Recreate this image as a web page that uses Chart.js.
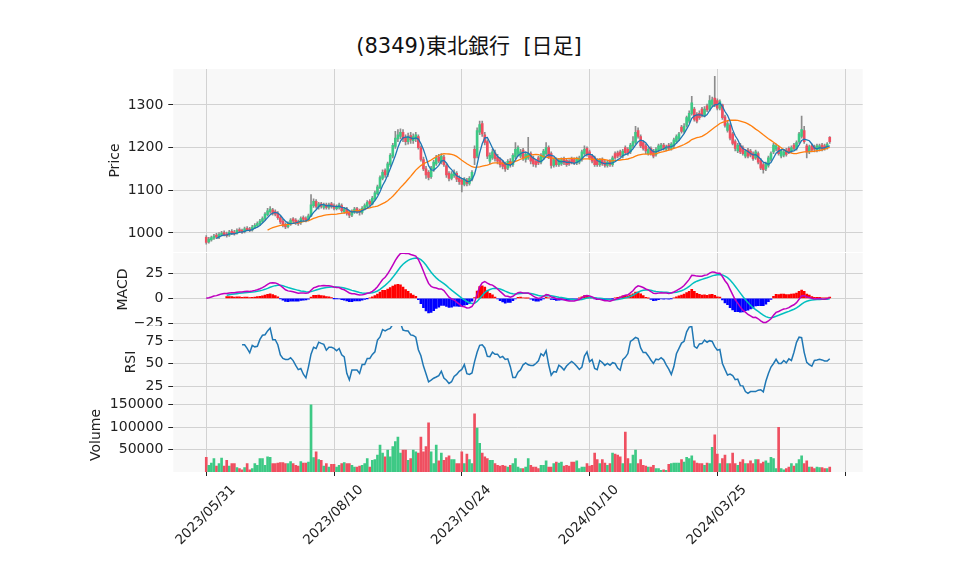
<!DOCTYPE html>
<html>
<head>
<meta charset="utf-8">
<script src="https://cdn.jsdelivr.net/npm/chart.js@4.4.0/dist/chart.umd.min.js"></script>
<style>
  body { margin: 0; background: #fff; }
  #wrap { position: relative; width: 958px; height: 575px; overflow: hidden; }
  #wrap canvas { position: absolute; left: 0; }
  #title {
    position: absolute; top: 29px; left: 469px; transform: translateX(-50%);
    font: 21px "DejaVu Sans", "Noto Sans CJK JP", sans-serif; color: #111; white-space: pre;
  }
</style>
</head>
<body>
<div id="wrap">
  <div id="title">(8349)東北銀行  [日足]</div>
  <canvas id="priceChart" width="958" height="183" style="top:69px"></canvas>
  <canvas id="macdChart" width="958" height="73" style="top:253px"></canvas>
  <canvas id="rsiChart" width="958" height="72" style="top:326px"></canvas>
  <canvas id="volumeChart" width="958" height="177" style="top:398px"></canvas>
</div>
<script>
// ラベル（50営業日ごと）
const tickLabels = ['2023/05/31', '2023/08/10', '2023/10/24', '2024/01/10', '2024/03/25', ''];

// 日足 OHLC
const opens = [
  990, 979, 984, 988, 995, 990, 996, 1001, 998, 995,
  1004, 1002, 999, 1008, 1006, 1003, 1011, 1010, 1007, 1013,
  1017, 1021, 1027, 1034, 1043, 1050, 1054, 1050, 1046, 1036,
  1028, 1020, 1015, 1021, 1033, 1030, 1026, 1024, 1036, 1034,
  1031, 1040, 1064, 1074, 1061, 1068, 1060, 1066, 1060, 1068,
  1064, 1057, 1060, 1064, 1050, 1056, 1048, 1042, 1049, 1057,
  1052, 1048, 1057, 1062, 1074, 1068, 1080, 1092, 1106, 1128,
  1146, 1136, 1160, 1180, 1203, 1220, 1226, 1236, 1224, 1214,
  1228, 1216, 1220, 1226, 1200, 1172, 1150, 1142, 1132, 1150,
  1162, 1178, 1166, 1178, 1158, 1140, 1128, 1134, 1140, 1128,
  1124, 1114, 1124, 1116, 1126, 1196, 1180, 1236, 1256, 1230,
  1214, 1168, 1176, 1188, 1178, 1172, 1166, 1162, 1152, 1168,
  1160, 1178, 1184, 1180, 1194, 1172, 1176, 1186, 1174, 1168,
  1176, 1166, 1176, 1186, 1200, 1186, 1158, 1172, 1160, 1162,
  1174, 1170, 1168, 1174, 1172, 1164, 1166, 1172, 1186, 1198,
  1190, 1180, 1176, 1170, 1160, 1172, 1166, 1158, 1168, 1160,
  1186, 1188, 1190, 1180, 1200, 1196, 1190, 1204, 1212, 1240,
  1226, 1212, 1204, 1186, 1198, 1192, 1184, 1194, 1198, 1206,
  1196, 1206, 1198, 1204, 1214, 1220, 1248, 1238, 1252, 1262,
  1280, 1290, 1278, 1280, 1290, 1276, 1298, 1290, 1300, 1316,
  1310, 1292, 1300, 1272, 1240, 1252, 1232, 1214, 1192, 1206,
  1200, 1180, 1194, 1192, 1186, 1176, 1186, 1170, 1160, 1150,
  1158, 1172, 1190, 1196, 1200, 1180, 1182, 1194, 1198, 1192,
  1206, 1198, 1214, 1226, 1240, 1204, 1190, 1204, 1202, 1194,
  1196, 1206, 1204, 1200, 1224
];
const highs = [
  994, 990, 993, 997, 999, 1001, 1004, 1005, 1002, 1006,
  1008, 1006, 1010, 1012, 1009, 1014, 1015, 1013, 1018, 1022,
  1026, 1032, 1038, 1048, 1058, 1062, 1058, 1054, 1050, 1040,
  1032, 1024, 1026, 1034, 1036, 1034, 1030, 1038, 1040, 1038,
  1044, 1090, 1080, 1078, 1072, 1072, 1070, 1070, 1070, 1072,
  1068, 1066, 1070, 1068, 1060, 1060, 1052, 1054, 1060, 1060,
  1056, 1062, 1068, 1076, 1078, 1086, 1098, 1112, 1134, 1148,
  1150, 1166, 1186, 1210, 1238, 1242, 1244, 1242, 1230, 1234,
  1236, 1232, 1236, 1230, 1204, 1178, 1156, 1146, 1156, 1170,
  1182, 1184, 1186, 1182, 1162, 1144, 1144, 1148, 1144, 1134,
  1128, 1130, 1128, 1132, 1146, 1204, 1246, 1262, 1262, 1236,
  1218, 1188, 1196, 1194, 1184, 1176, 1170, 1166, 1172, 1174,
  1186, 1212, 1204, 1196, 1198, 1190, 1224, 1190, 1180, 1172,
  1180, 1186, 1196, 1212, 1204, 1190, 1176, 1176, 1174, 1176,
  1178, 1174, 1172, 1178, 1176, 1178, 1180, 1194, 1204, 1202,
  1194, 1184, 1180, 1174, 1174, 1176, 1170, 1170, 1172, 1180,
  1190, 1192, 1194, 1196, 1204, 1200, 1210, 1226, 1250, 1246,
  1230, 1216, 1208, 1200, 1202, 1196, 1200, 1208, 1210, 1210,
  1206, 1210, 1212, 1222, 1230, 1236, 1252, 1256, 1274, 1286,
  1320, 1294, 1282, 1286, 1294, 1296, 1302, 1322, 1318, 1367,
  1314, 1312, 1302, 1276, 1262, 1256, 1236, 1218, 1210, 1210,
  1204, 1196, 1198, 1196, 1190, 1194, 1190, 1174, 1164, 1166,
  1180, 1190, 1210, 1208, 1204, 1196, 1194, 1198, 1202, 1204,
  1210, 1216, 1236, 1274, 1250, 1208, 1206, 1208, 1206, 1208,
  1208, 1210, 1208, 1212, 1226
];
const lows = [
  974, 976, 981, 985, 987, 987, 993, 993, 990, 992,
  996, 995, 997, 1001, 999, 1000, 1005, 1003, 1004, 1010,
  1014, 1018, 1024, 1030, 1040, 1046, 1042, 1040, 1032, 1022,
  1014, 1010, 1012, 1018, 1024, 1020, 1018, 1020, 1028, 1026,
  1028, 1038, 1060, 1058, 1056, 1058, 1056, 1056, 1056, 1058,
  1054, 1054, 1056, 1048, 1046, 1042, 1036, 1038, 1046, 1046,
  1042, 1044, 1054, 1060, 1064, 1066, 1078, 1090, 1104, 1124,
  1130, 1132, 1156, 1176, 1198, 1214, 1220, 1214, 1206, 1208,
  1210, 1210, 1214, 1196, 1168, 1146, 1128, 1124, 1128, 1144,
  1158, 1164, 1162, 1156, 1130, 1122, 1124, 1130, 1120, 1114,
  1096, 1110, 1110, 1112, 1122, 1160, 1176, 1230, 1226, 1206,
  1174, 1162, 1172, 1168, 1162, 1154, 1150, 1144, 1148, 1154,
  1156, 1174, 1180, 1176, 1170, 1166, 1172, 1162, 1156, 1154,
  1160, 1162, 1172, 1182, 1174, 1152, 1154, 1156, 1156, 1158,
  1160, 1156, 1158, 1162, 1160, 1160, 1162, 1168, 1182, 1180,
  1172, 1164, 1156, 1156, 1156, 1158, 1154, 1154, 1156, 1156,
  1172, 1176, 1178, 1176, 1184, 1182, 1186, 1200, 1208, 1222,
  1200, 1194, 1186, 1182, 1182, 1176, 1180, 1190, 1194, 1194,
  1192, 1194, 1194, 1200, 1210, 1216, 1234, 1234, 1248, 1258,
  1276, 1262, 1258, 1266, 1272, 1272, 1284, 1286, 1296, 1296,
  1288, 1288, 1266, 1248, 1236, 1218, 1206, 1192, 1188, 1186,
  1182, 1176, 1176, 1178, 1170, 1172, 1162, 1148, 1140, 1146,
  1154, 1168, 1186, 1192, 1182, 1176, 1178, 1180, 1186, 1188,
  1194, 1194, 1210, 1222, 1210, 1176, 1186, 1190, 1190, 1190,
  1192, 1192, 1194, 1196, 1210
];
const closes = [
  978, 986, 989, 993, 990, 997, 1000, 996, 994, 1002,
  1000, 998, 1006, 1004, 1002, 1010, 1008, 1006, 1014, 1018,
  1022, 1028, 1034, 1044, 1052, 1056, 1046, 1044, 1036, 1026,
  1018, 1014, 1022, 1030, 1028, 1024, 1022, 1034, 1032, 1030,
  1040, 1066, 1074, 1062, 1068, 1062, 1066, 1060, 1066, 1062,
  1058, 1062, 1066, 1052, 1056, 1046, 1042, 1050, 1056, 1050,
  1048, 1058, 1064, 1072, 1068, 1082, 1094, 1108, 1130, 1142,
  1136, 1162, 1182, 1205, 1222, 1230, 1236, 1220, 1214, 1226,
  1218, 1226, 1230, 1200, 1172, 1150, 1136, 1130, 1152, 1166,
  1176, 1168, 1180, 1160, 1136, 1128, 1138, 1142, 1126, 1120,
  1114, 1126, 1116, 1128, 1142, 1176, 1240, 1254, 1232, 1212,
  1180, 1182, 1190, 1174, 1168, 1160, 1156, 1150, 1168, 1160,
  1182, 1196, 1200, 1190, 1176, 1184, 1186, 1168, 1162, 1160,
  1164, 1182, 1192, 1200, 1178, 1158, 1172, 1160, 1170, 1172,
  1164, 1160, 1162, 1166, 1164, 1174, 1176, 1190, 1196, 1184,
  1176, 1168, 1160, 1160, 1170, 1162, 1158, 1166, 1160, 1176,
  1176, 1180, 1182, 1192, 1188, 1186, 1206, 1214, 1236, 1226,
  1204, 1198, 1192, 1196, 1186, 1180, 1196, 1204, 1206, 1198,
  1202, 1198, 1208, 1218, 1226, 1232, 1238, 1250, 1270, 1280,
  1305, 1266, 1262, 1270, 1276, 1290, 1288, 1310, 1312, 1300,
  1292, 1308, 1270, 1252, 1256, 1222, 1210, 1198, 1206, 1190,
  1186, 1192, 1180, 1182, 1174, 1190, 1166, 1152, 1148, 1162,
  1176, 1186, 1206, 1204, 1186, 1192, 1190, 1184, 1190, 1200,
  1198, 1212, 1232, 1242, 1214, 1190, 1202, 1194, 1196, 1204,
  1204, 1196, 1198, 1208, 1214
];
const volumes = [
  32500, 15000, 20000, 30000, 13000, 19000, 31000, 13000, 26000, 13000,
  19000, 19000, 10000, 7500, 5000, 10000, 19000, 5000, 7500, 19000,
  15000, 30000, 30000, 15000, 34000, 32500, 19000, 19000, 20000, 21000,
  21000, 19000, 19000, 23000, 19000, 15000, 13000, 23000, 20000, 20000,
  22000, 150000, 32000, 45000, 28000, 26000, 13000, 19000, 11000, 17000,
  17000, 11000, 15000, 19000, 21000, 19000, 19000, 15000, 11000, 11000,
  13000, 15000, 19000, 30000, 11000, 26000, 28000, 38000, 60000, 42000,
  34000, 49000, 34000, 57000, 68000, 78000, 42000, 49000, 49000, 26000,
  30000, 49000, 45000, 42000, 78000, 45000, 57000, 110000, 45000, 19000,
  60000, 25000, 42000, 26000, 32000, 36000, 28000, 28000, 19000, 19000,
  45000, 19000, 40000, 28000, 19000, 130000, 98000, 64000, 42000, 34000,
  30000, 26000, 26000, 19000, 15000, 13000, 15000, 13000, 11000, 15000,
  19000, 30000, 11000, 7500, 7500, 11000, 30000, 15000, 11000, 11000,
  7500, 15000, 15000, 25000, 11000, 11000, 19000, 22000, 20000, 22000,
  13000, 15000, 13000, 22000, 22000, 25000, 7500, 11000, 11000, 19000,
  13000, 15000, 42000, 28000, 19000, 28000, 20000, 15000, 19000, 42000,
  40000, 38000, 34000, 19000, 89000, 30000, 19000, 38000, 49000, 19000,
  28000, 15000, 13000, 11000, 11000, 15000, 7500, 7500, 3800, 5000,
  3800, 17000, 19000, 20000, 20000, 20000, 28000, 22000, 32500, 30000,
  36000, 25000, 20000, 19000, 19000, 15000, 20000, 19000, 55000, 83000,
  40000, 19000, 30000, 38000, 19000, 19000, 42000, 19000, 15000, 22000,
  28000, 19000, 19000, 25000, 19000, 28000, 28000, 19000, 22000, 25000,
  20000, 32500, 30000, 7500, 100000, 7500, 5000, 7500, 11000, 19000,
  13000, 19000, 28000, 36000, 19000, 25000, 11000, 11000, 7500, 11000,
  10000, 10000, 7500, 7500, 11000
];

const UP = '#3dc985';
const DOWN = '#ef4f60';
const WICK = '#8c8c8c';
const GRID = '#d2d2d2';
const TEXT = '#222';
const FONT = '"DejaVu Sans", "Noto Sans CJK JP", sans-serif';
const X_MIN = -12.9;
const X_MAX = 256.9;
const PLOT_LEFT = 173.3;
const PLOT_RIGHT = 862.7;

Chart.defaults.font.family = FONT;

const idx = closes.map((_, i) => i);
const isUp = closes.map((c, i) => c >= opens[i]);
const pts = arr => idx.map(i => ({ x: i, y: arr[i] }));

// テクニカル指標（終値から）
function sma(src, n) {
    return src.map((v, i) => {
        if (i < n - 1) return null;
        let s = 0;
        for (let j = i - n + 1; j <= i; j++) s += src[j];
        return s / n;
    });
}

function ema(src, n) {
    const k = 2 / (n + 1);
    let prev = src[0];
    return src.map((v, i) => (prev = i === 0 ? v : v * k + prev * (1 - k)));
}

function rsiOf(src, n) {
    return src.map((v, i) => {
        if (i < n) return null;
        let gain = 0, loss = 0;
        for (let j = i - n + 1; j <= i; j++) {
            const d = src[j] - src[j - 1];
            if (d > 0) gain += d; else loss -= d;
        }
        return loss === 0 ? 100 : 100 - 100 / (1 + gain / loss);
    });
}

const ma5 = sma(closes, 5);
const ma25 = sma(closes, 25);
const ema12 = ema(closes, 12);
const ema26 = ema(closes, 26);
const macd = closes.map((_, i) => ema12[i] - ema26[i]);
const signalFull = ema(macd, 9);
const signal = signalFull.map((v, i) => (i < 8 ? null : v));
const hist = macd.map((v, i) => (i < 8 ? null : v - signalFull[i]));
const rsi = rsiOf(closes, 14);

const panelBg = {
    id: 'panelBg',
    beforeDraw(chart) {
        const { ctx, chartArea: a } = chart;
        ctx.save();
        ctx.fillStyle = '#f8f8f8';
        ctx.fillRect(a.left, a.top, a.right - a.left, a.bottom - a.top);
        ctx.restore();
    }
};

function panelOptions({ yMin, yMax, yTicks, yTitle, boxLeft, showX, fmt }) {
    return {
        responsive: false,
        animation: false,
        devicePixelRatio: 1,
        layout: { padding: { left: boxLeft, right: 958 - PLOT_RIGHT, top: 0, bottom: 0 } },
        plugins: { legend: { display: false }, tooltip: { enabled: false } },
        scales: {
            x: {
                type: 'linear',
                min: X_MIN,
                max: X_MAX,
                offset: false,
                afterBuildTicks: s => { s.ticks = [0, 50, 100, 150, 200, 250].map(v => ({ value: v })); },
                afterFit: s => {
                    s.height = showX ? 103 : 0;
                    s.paddingLeft = 0;
                    s.paddingRight = 0;
                },
                grid: { color: GRID, tickColor: TEXT, offset: false, drawTicks: showX, tickLength: 4 },
                border: { display: false },
                ticks: {
                    display: showX,
                    autoSkip: false,
                    maxRotation: 45,
                    minRotation: 45,
                    labelOffset: 27,
                    padding: 6,
                    color: TEXT,
                    font: { size: 13.5 },
                    callback: v => tickLabels[v / 50]
                }
            },
            y: {
                min: yMin,
                max: yMax,
                afterBuildTicks: s => { s.ticks = yTicks.map(v => ({ value: v })); },
                afterFit: s => {
                    s.width = PLOT_LEFT - boxLeft;
                    s.paddingTop = 0;
                    s.paddingBottom = 0;
                },
                grid: { color: GRID, tickColor: TEXT, tickLength: 5 },
                border: { display: false },
                ticks: { color: TEXT, padding: 5, font: { size: 14 }, callback: fmt },
                title: { display: true, text: yTitle, color: TEXT, padding: 0, font: { size: 14 } }
            }
        }
    };
}

// 株価
new Chart(document.getElementById('priceChart'), {
    type: 'bar',
    data: {
        datasets: [
            { type: 'line', data: pts(ma5), borderColor: '#1f77b4', borderWidth: 1.3, pointRadius: 0, order: 0 },
            { type: 'line', data: pts(ma25), borderColor: '#ff7f0e', borderWidth: 1.3, pointRadius: 0, order: 1 },
            {
                data: idx.map(i => ({ x: i, y: [opens[i], closes[i]] })),
                backgroundColor: isUp.map(u => (u ? UP : DOWN)),
                barThickness: 2, minBarLength: 1, grouped: false, order: 2
            },
            {
                data: idx.map(i => ({ x: i, y: [lows[i], highs[i]] })),
                backgroundColor: WICK,
                barThickness: 1, grouped: false, order: 3
            }
        ]
    },
    options: panelOptions({
        yMin: 955.5, yMax: 1384, yTicks: [1000, 1100, 1200, 1300],
        yTitle: 'Price', boxLeft: 106.6, showX: false, fmt: v => String(v)
    }),
    plugins: [panelBg]
});

// MACD
new Chart(document.getElementById('macdChart'), {
    type: 'bar',
    data: {
        datasets: [
            { type: 'line', data: pts(macd), borderColor: '#bf00bf', borderWidth: 1.5, pointRadius: 0, order: 0 },
            { type: 'line', data: pts(signal), borderColor: '#00bfbf', borderWidth: 1.5, pointRadius: 0, order: 1 },
            {
                data: pts(hist),
                backgroundColor: hist.map(v => (v !== null && v < 0 ? '#0000ff' : '#ff0000')),
                barThickness: 2, grouped: false, order: 2
            }
        ]
    },
    options: panelOptions({
        yMin: -27.7, yMax: 45.3, yTicks: [-25, 0, 25],
        yTitle: 'MACD', boxLeft: 115.1, showX: false,
        fmt: v => (v < 0 ? '\u2212' + Math.abs(v) : String(v))
    }),
    plugins: [panelBg]
});

// RSI
new Chart(document.getElementById('rsiChart'), {
    type: 'line',
    data: {
        datasets: [
            { data: pts(rsi), borderColor: '#1f77b4', borderWidth: 1.5, pointRadius: 0 }
        ]
    },
    options: panelOptions({
        yMin: 11.8, yMax: 91.5, yTicks: [25, 50, 75],
        yTitle: 'RSI', boxLeft: 123.1, showX: false, fmt: v => String(v)
    }),
    plugins: [panelBg]
});

// 出来高
new Chart(document.getElementById('volumeChart'), {
    type: 'bar',
    data: {
        datasets: [
            {
                data: pts(volumes),
                backgroundColor: isUp.map(u => (u ? UP : DOWN)),
                barThickness: 2
            }
        ]
    },
    options: panelOptions({
        yMin: 0, yMax: 165300, yTicks: [50000, 100000, 150000],
        yTitle: 'Volume', boxLeft: 87.6, showX: true, fmt: v => String(v)
    }),
    plugins: [panelBg]
});
</script>
</body>
</html>
